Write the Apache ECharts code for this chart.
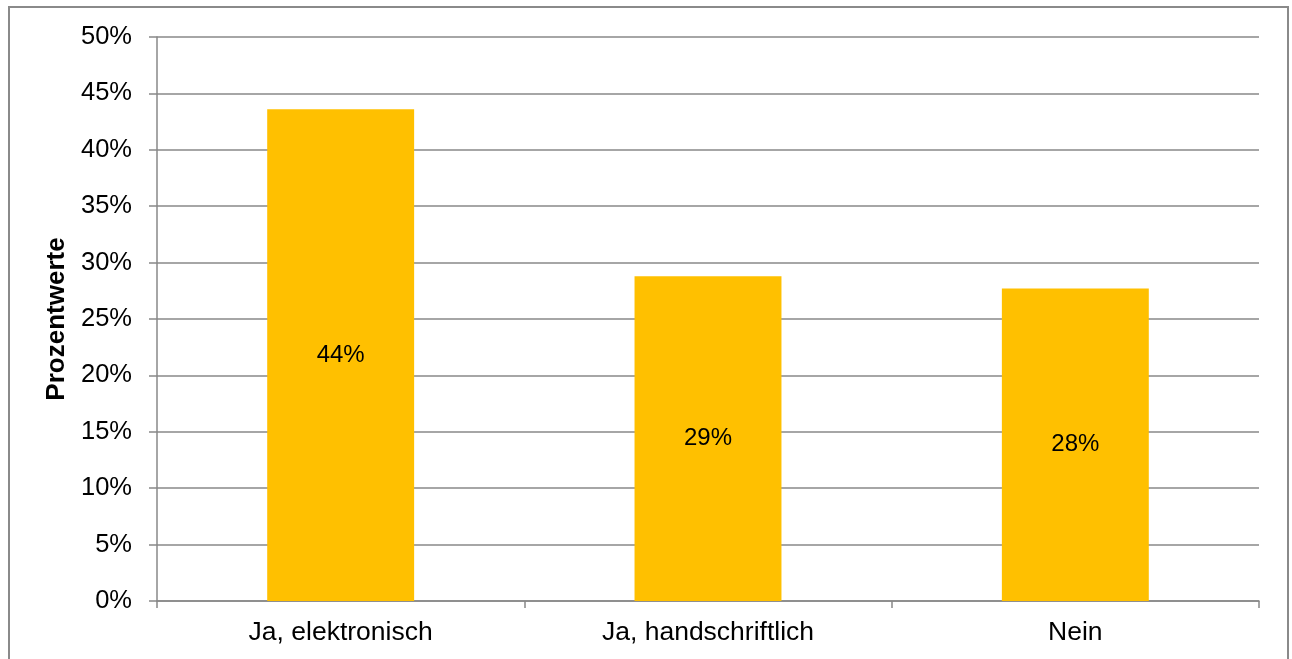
<!DOCTYPE html>
<html>
<head>
<meta charset="utf-8">
<script src="https://cdn.jsdelivr.net/npm/echarts@6/dist/echarts.min.js"></script>
<style>
  html, body { margin: 0; padding: 0; background: #fff; }
  #chart { position: relative; width: 1292px; height: 659px; overflow: hidden; }
  #frame {
    position: absolute; left: 8px; top: 6px; width: 1281px; height: 700px;
    border: 2px solid #8a8a8a; box-sizing: border-box; pointer-events: none;
  }
  #plot { position: absolute; left: 0; top: 0; width: 1292px; height: 659px; }
</style>
</head>
<body>
<div id="chart">
  <div id="plot"></div>
  <div id="frame"></div>
</div>
<script>
const categories = ['Ja, elektronisch', 'Ja, handschriftlich', 'Nein']
const values = [43.6, 28.8, 27.7]
const valueLabels = ['44%', '29%', '28%']
const yTicks = [0, 5, 10, 15, 20, 25, 30, 35, 40, 45, 50]

const myChart = echarts.init(document.getElementById('plot'))
const font = '"Liberation Sans", Arial, sans-serif'

const option = {
  animation: false,
  grid: {
    left: 157,
    right: 33,
    top: 37,
    bottom: 58
  },
  xAxis: {
    type: 'category',
    data: categories,
    axisLine: { lineStyle: { color: '#888', width: 1.5 } },
    axisTick: { show: true, length: 7, alignWithLabel: false, lineStyle: { color: '#888', width: 1.5 } },
    axisLabel: { color: '#000', fontSize: 26.5, fontFamily: font, margin: 18 }
  },
  yAxis: {
    type: 'value',
    min: yTicks[0],
    max: yTicks[yTicks.length - 1],
    interval: 5,
    name: 'Prozentwerte',
    nameLocation: 'middle',
    nameGap: 84,
    nameRotate: 90,
    nameTextStyle: { color: '#000', fontSize: 26, fontWeight: 'bold', fontFamily: font },
    axisLine: { show: true, lineStyle: { color: '#888', width: 1.5 } },
    axisTick: { show: true, length: 8, lineStyle: { color: '#888', width: 1.5 } },
    axisLabel: { color: '#000', fontSize: 25.5, fontFamily: font, margin: 25, formatter: '{value}%' },
    splitLine: { show: true, lineStyle: { color: '#888', width: 1.5 } }
  },
  series: [
    {
      type: 'bar',
      data: values,
      barWidth: '40%',
      itemStyle: { color: '#FFC000' },
      label: {
        show: true,
        position: 'inside',
        color: '#000',
        fontSize: 24,
        fontFamily: font,
        formatter: function (p) { return valueLabels[p.dataIndex] }
      }
    }
  ]
}
myChart.setOption(option)
</script>
</body>
</html>
